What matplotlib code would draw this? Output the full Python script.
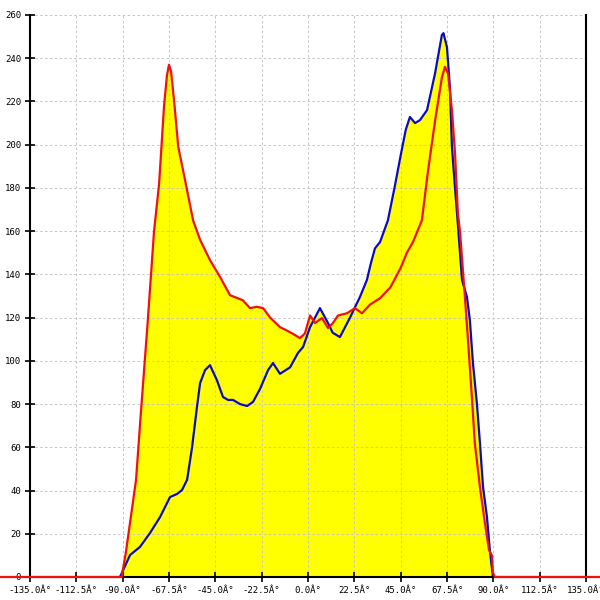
import matplotlib
matplotlib.use("Agg")
import matplotlib.pyplot as plt

# red series (angle in degrees, value)
red_x = [-150, -90.5, -88.5, -86, -83.5, -81, -78, -76, -74.8, -72.3, -69.9, -68.5, -67.5,
         -66.5, -65, -63, -59.7, -55.8, -52.4, -47.6, -42.7, -37.9, -31.6, -28.2, -24.8,
         -21.8, -18.4, -13.6, -10.2, -7.3, -3.9, -1.5, 1, 3.4, 6.8, 9.7, 12.1, 14.6, 18.9,
         22.8, 26.2, 30.1, 35, 40, 45, 48, 51, 55.3, 58.3, 61.7, 65, 66.5, 68, 69.9, 71.4,
         72.8, 73.8, 76.2, 77.7, 79.6, 81, 83.5, 85.9, 87.9, 89.3, 89.8, 90.8, 150]
red_y = [0, 0, 11, 28, 45, 78, 116, 143, 159.6, 182, 218, 232, 237,
         234, 220, 199, 183.6, 165, 156, 146.6, 138.8, 130.4, 128, 124.4, 125,
         124.4, 120, 115.6, 114, 112.5, 110.5, 112.7, 121, 117.5, 119.8, 115.2, 117.5, 121, 122,
         124.4, 122, 126, 129, 134, 143, 150, 155, 165, 188, 211, 231, 236, 233, 216, 196,
         168, 160, 129.5, 109.6, 83, 62, 41.6, 25, 12.5, 10, 2, 0, 0]

# blue series
blue_x = [-91.3, -86.4, -81.6, -76.7, -71.8, -67, -63.6, -61.2, -58.7, -56.3, -54, -52.4,
          -50, -47.6, -44.2, -41.3, -38.8, -36.4, -33, -29.6, -26.7, -23.3, -19.4, -17,
          -13.6, -8.7, -4.9, -2.4, 1, 5.8, 9.7, 12, 15.5, 20.4, 25.2, 28.6, 30.5, 32.5, 35,
          38.8, 42, 45, 47.5, 49.5, 52, 54.4, 57.8, 61.7, 65, 65.8, 67.5, 68.9, 69.9, 71.4,
          72.8, 74.8, 77.2, 78.6, 80.1, 82, 83.5, 85, 86.9, 88.3, 89.8]
blue_y = [0, 10.2, 13.9, 20.4, 27.8, 37, 38.4, 40.2, 45, 60, 78, 89.7,
          95.7, 98, 91, 83.3, 81.9, 81.9, 80, 79.1, 81, 87, 95.7, 99,
          94, 97, 103.6, 106.4, 115.6, 124.4, 117.5, 113, 111, 120, 129.5, 137.4, 145, 152, 155,
          165, 180, 195, 207, 212.8, 210, 211.4, 216, 233, 250.7, 251.6, 245, 226.6, 199, 180,
          163, 137.4, 129.5, 118.9, 99, 80.5, 62, 41.6, 27.8, 12.5, 0]

x_ticks = [-135, -112.5, -90, -67.5, -45, -22.5, 0, 22.5, 45, 67.5, 90, 112.5, 135]
x_labels = ["%.1fÂ°" % t for t in x_ticks]
y_ticks = list(range(0, 261, 20))

fig = plt.figure(figsize=(6, 6), dpi=100)
ax = fig.add_axes([30 / 600, 23 / 600, 556 / 600, 562 / 600])

ax.fill_between(red_x, red_y, color="#ffff00", zorder=1, lw=0)
ax.fill_between(blue_x, blue_y, color="#ffff00", zorder=1, lw=0)
ax.plot(blue_x, blue_y, color="#0a0ac8", lw=1.6, zorder=3)
ax.plot(red_x, red_y, color="#ee1111", lw=1.6, zorder=6, clip_on=False)

ax.set_xlim(-135, 135)
ax.set_ylim(0, 260)
ax.set_xticks(x_ticks)
ax.set_xticklabels(x_labels)
ax.set_yticks(y_ticks)

ax.set_axisbelow(False)
ax.grid(True, color="#c4c4c4", ls=(0, (2.5, 2.5)), lw=0.7, zorder=2)

ax.spines["top"].set_visible(False)
for s in ["left", "right", "bottom"]:
    ax.spines[s].set_color("black")
    ax.spines[s].set_linewidth(1.5)
    ax.spines[s].set_zorder(5)

ax.tick_params(direction="inout", length=7, width=1.2, labelsize=6.5, pad=3)
for lab in ax.get_xticklabels() + ax.get_yticklabels():
    lab.set_family("DejaVu Sans Mono")

plt.savefig("out.png", dpi=100)
